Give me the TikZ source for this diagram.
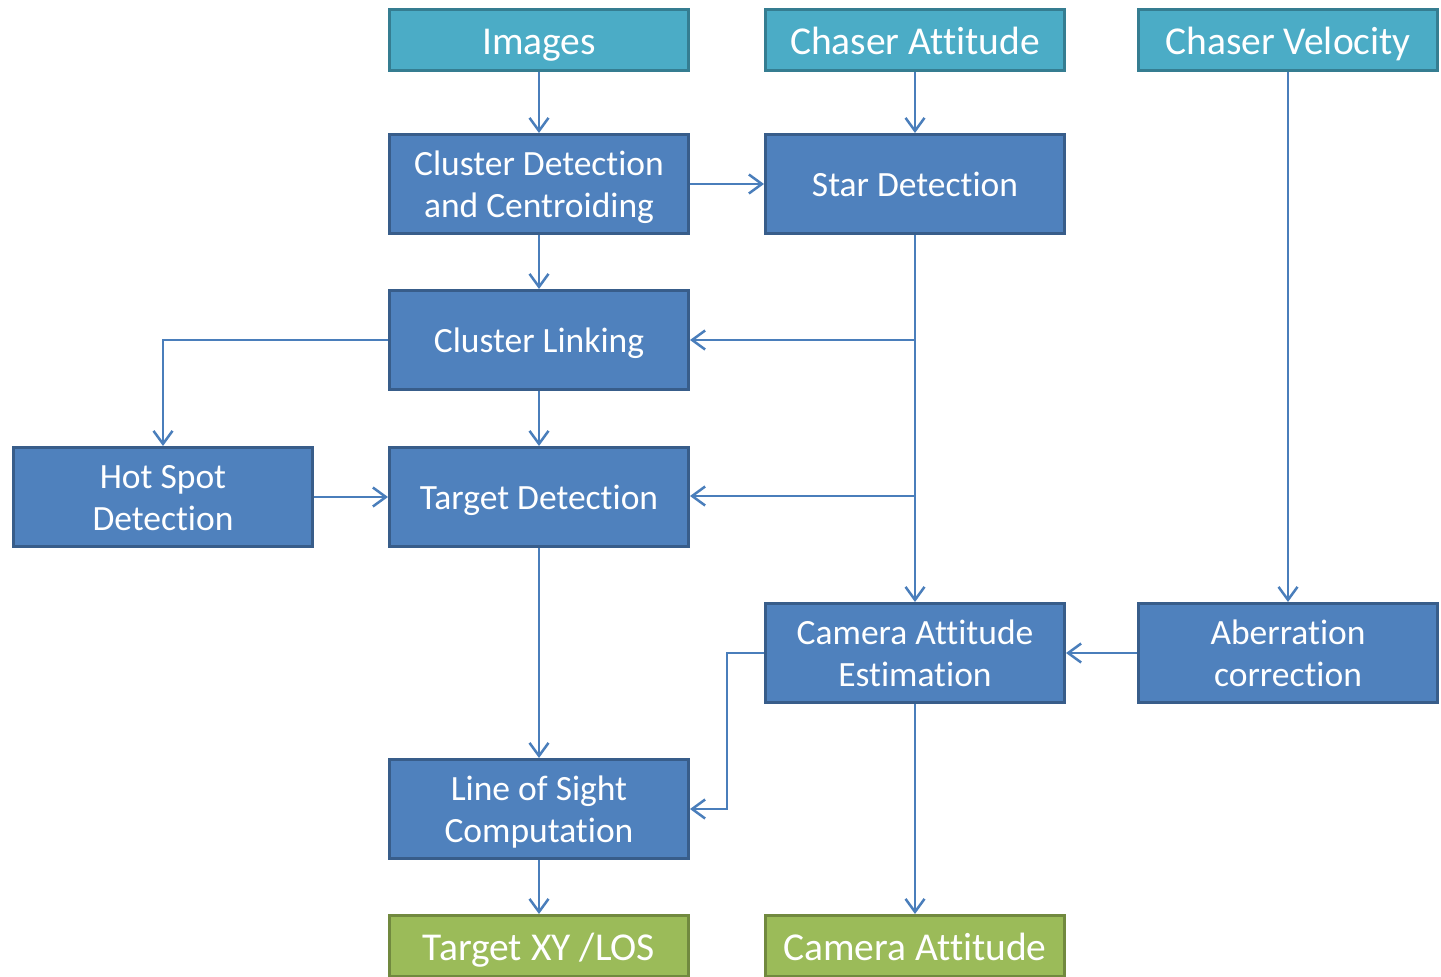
\documentclass[tikz,border=0pt]{standalone}
\usepackage{fontspec}
\setmainfont{Carlito}[Ligatures=NoCommon]
\usetikzlibrary{arrows.meta}
\definecolor{tealfill}{HTML}{4BACC6}
\definecolor{tealdraw}{HTML}{357D91}
\definecolor{bluefill}{HTML}{4F81BD}
\definecolor{bluedraw}{HTML}{385D8A}
\definecolor{greenfill}{HTML}{9BBB59}
\definecolor{greendraw}{HTML}{71893F}
\definecolor{linec}{HTML}{4A7EBB}
\newcommand{\topstrut}{\rule{0pt}{1.0em}}
\newcommand{\botstrut}{\rule[-0.27em]{0pt}{0pt}}
\newcommand{\oneline}[1]{\topstrut\botstrut #1}
\newcommand{\twoline}[2]{\topstrut #1\\\botstrut #2}
\tikzset{
  box/.style={draw, line width=3pt, minimum width=299pt, minimum height=99pt, inner sep=0pt,
    text=white, align=center, font=\fontsize{35.5}{42}\selectfont},
  inbox/.style={box, fill=tealfill, draw=tealdraw, minimum height=61pt, font=\fontsize{39.5}{46}\selectfont},
  procbox/.style={box, fill=bluefill, draw=bluedraw},
  outbox/.style={box, fill=greenfill, draw=greendraw, minimum height=61pt, font=\fontsize{39.5}{46}\selectfont},
  conn/.style={draw=linec, line width=2.5pt, -{Straight Barb[length=13pt,width=19pt,line width=2.5pt]}}
}
\begin{document}
\begin{tikzpicture}[x=1pt,y=-1pt]
\useasboundingbox (0,0) rectangle (1441,977);
\clip (0,0) rectangle (1441,977);
\node[inbox] (img) at (539,40) {\oneline{Images}};
\node[inbox] (catt) at (915,40) {\oneline{Chaser Attitude}};
\node[inbox] (cvel) at (1288,40) {\oneline{Chaser Velocity}};
\node[procbox] (cdet) at (539,184) {\twoline{Cluster Detection}{and Centroiding}};
\node[procbox] (sdet) at (915,184) {\oneline{Star Detection}};
\node[procbox] (clink) at (539,340) {\oneline{Cluster Linking}};
\node[procbox] (hot) at (163,497) {\twoline{Hot Spot}{Detection}};
\node[procbox] (tdet) at (539,497) {\oneline{Target Detection}};
\node[procbox] (cae) at (915,653) {\twoline{Camera Attitude}{Estimation}};
\node[procbox] (aber) at (1288,653) {\twoline{Aberration}{correction}};
\node[procbox] (los) at (539,809) {\twoline{Line of Sight}{Computation}};
\node[outbox] (txy) at (539,946) {\oneline{Target XY /LOS}};
\node[outbox] (camo) at (915,946) {\oneline{Camera Attitude}};
\coordinate (b1) at (915,340);
\coordinate (b2) at (915,496);
\coordinate (hc) at (163,340);
\coordinate (k1) at (727,653);
\coordinate (k2) at (727,809);
\draw[conn] (img) -- (cdet);
\draw[conn] (catt) -- (sdet);
\draw[conn] (cvel) -- (aber);
\draw[conn] (cdet) -- (sdet);
\draw[conn] (cdet) -- (clink);
\draw[conn] (sdet) -- (cae);
\draw[conn] (b1) -- (clink.east);
\draw[conn] (b2) -- (tdet.east |- b2);
\draw[conn] (clink.west) -- (hc) -- (hot.north);
\draw[conn] (clink) -- (tdet);
\draw[conn] (hot) -- (tdet);
\draw[conn] (tdet) -- (los);
\draw[conn] (aber) -- (cae);
\draw[conn] (cae.west) -- (k1) -- (k2) -- (los.east);
\draw[conn] (los) -- (txy);
\draw[conn] (cae) -- (camo);
\end{tikzpicture}
\end{document}
